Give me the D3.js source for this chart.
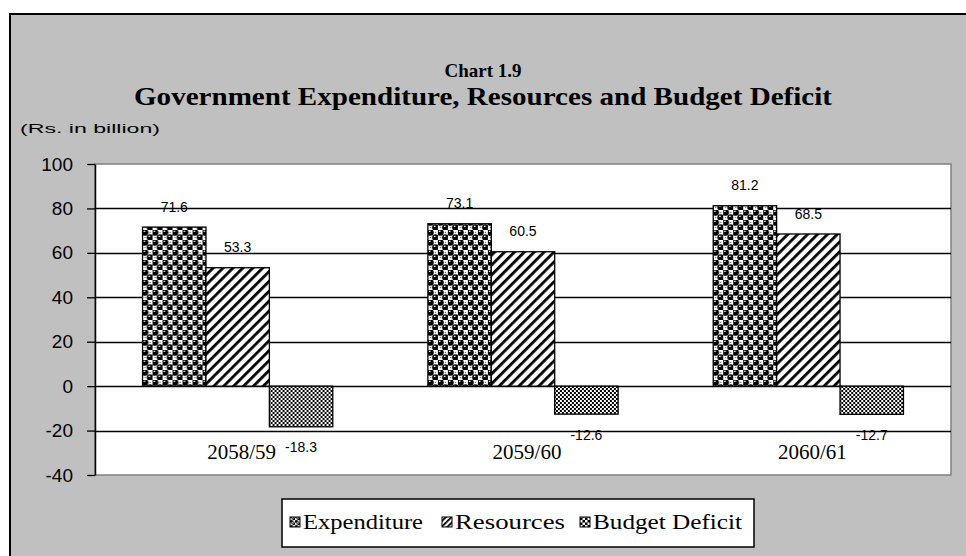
<!DOCTYPE html>
<html>
<head>
<meta charset="utf-8">
<script src="https://cdn.jsdelivr.net/npm/d3@7"></script>
<style>
  html, body { margin: 0; padding: 0; background: #ffffff; }
  svg { display: block; }
</style>
</head>
<body>
<svg id="chart" width="966" height="556"></svg>
<script>
// Fiscal years and series values (Rs. in billion)
const categories = ["2058/59", "2059/60", "2060/61"];
const seriesNames = ["Expenditure", "Resources", "Budget Deficit"];
const expenditure = [71.6, 73.1, 81.2];
const resources = [53.3, 60.5, 68.5];
const budgetDeficit = [-18.3, -12.6, -12.7];
const yTicks = [-40, -20, 0, 20, 40, 60, 80, 100];

const seriesValues = [expenditure, resources, budgetDeficit];

const svg = d3.select("#chart");
const W = 966, H = 556;

// --- fill patterns -------------------------------------------------------
const defs = svg.append("defs");

// black spheres on a white ground
function spherePattern(id, size, rf) {
  const p = defs.append("pattern").attr("id", id)
    .attr("patternUnits", "userSpaceOnUse")
    .attr("width", size).attr("height", size);
  p.append("rect").attr("width", size).attr("height", size).attr("fill", "#fff");
  const r = size * rf;
  [[size / 4, size / 4], [size * 3 / 4, size * 3 / 4]].forEach(([cx, cy]) => {
    p.append("circle").attr("cx", cx).attr("cy", cy).attr("r", r).attr("fill", "#000");
    p.append("rect").attr("x", cx - r * 0.45).attr("y", cy - r * 0.55)
      .attr("width", r * 0.45).attr("height", r * 0.4).attr("fill", "#fff");
  });
  [[size * 3 / 4, size / 4], [size / 4, size * 3 / 4]].forEach(([cx, cy]) => {
    p.append("rect").attr("x", cx - 0.6).attr("y", cy - 0.6)
      .attr("width", 1.2).attr("height", 1.2).attr("fill", "#666");
  });
}
// wide upward diagonal stripes
function stripePattern(id, size, thick) {
  const p = defs.append("pattern").attr("id", id)
    .attr("patternUnits", "userSpaceOnUse")
    .attr("width", size).attr("height", size)
    .attr("patternTransform", "rotate(45)");
  p.append("rect").attr("width", size).attr("height", size).attr("fill", "#fff");
  p.append("rect").attr("width", thick).attr("height", size).attr("fill", "#000");
}
// fine checkerboard
function checkerPattern(id, cell) {
  const p = defs.append("pattern").attr("id", id)
    .attr("patternUnits", "userSpaceOnUse")
    .attr("width", cell * 2).attr("height", cell * 2);
  p.append("rect").attr("width", cell * 2).attr("height", cell * 2).attr("fill", "#000");
  p.append("rect").attr("width", cell).attr("height", cell).attr("fill", "#fff");
  p.append("rect").attr("x", cell).attr("y", cell).attr("width", cell).attr("height", cell).attr("fill", "#fff");
}
spherePattern("pat-exp", 10, 0.33);
stripePattern("pat-res", 7, 2.8);
checkerPattern("pat-def", 2);
spherePattern("pat-exp-s", 5, 0.3);
stripePattern("pat-res-s", 4, 1.8);
checkerPattern("pat-def-s", 2.5);

const fills = ["url(#pat-exp)", "url(#pat-res)", "url(#pat-def)"];
const legendFills = ["url(#pat-exp-s)", "url(#pat-res-s)", "url(#pat-def-s)"];

// --- chart frame ---------------------------------------------------------
svg.append("rect")
  .attr("x", 10).attr("y", 14)
  .attr("width", W + 20).attr("height", H + 20)
  .attr("fill", "#c0c0c0").attr("stroke", "#000").attr("stroke-width", 2);

// --- titles --------------------------------------------------------------
svg.append("text")
  .attr("x", 483).attr("y", 77)
  .attr("text-anchor", "middle")
  .attr("font-family", "'Liberation Serif', 'Times New Roman', serif")
  .attr("font-weight", "bold").attr("font-size", 19)
  .text("Chart 1.9");

svg.append("text")
  .attr("x", 483).attr("y", 105)
  .attr("text-anchor", "middle")
  .attr("font-family", "'Liberation Serif', 'Times New Roman', serif")
  .attr("font-weight", "bold").attr("font-size", 25)
  .attr("textLength", 698).attr("lengthAdjust", "spacingAndGlyphs")
  .text("Government Expenditure, Resources and Budget Deficit");

svg.append("text")
  .attr("x", 20).attr("y", 133)
  .attr("font-family", "'Liberation Sans', Arial, sans-serif")
  .attr("font-size", 13)
  .attr("textLength", 140).attr("lengthAdjust", "spacingAndGlyphs")
  .text("(Rs. in billion)");

// --- scales --------------------------------------------------------------
const plot = { left: 95, right: 951, top: 164, bottom: 475 };

const x0 = d3.scaleBand()
  .domain(categories)
  .range([plot.left, plot.right])
  .paddingInner(1 / 3)
  .paddingOuter(1 / 6);

const x1 = d3.scaleBand()
  .domain(d3.range(seriesNames.length))
  .range([0, x0.bandwidth()])
  .padding(0);

const y = d3.scaleLinear()
  .domain([d3.min(yTicks), d3.max(yTicks)])
  .range([plot.bottom, plot.top]);

// plot area
svg.append("rect")
  .attr("x", plot.left).attr("y", plot.top)
  .attr("width", plot.right - plot.left).attr("height", plot.bottom - plot.top)
  .attr("fill", "#fff").attr("stroke", "#808080").attr("stroke-width", 1.5);

// gridlines
svg.append("g").selectAll("line")
  .data(yTicks.filter(t => t !== d3.min(yTicks) && t !== d3.max(yTicks)))
  .join("line")
  .attr("x1", plot.left).attr("x2", plot.right)
  .attr("y1", d => Math.round(y(d)) + 0.5).attr("y2", d => Math.round(y(d)) + 0.5)
  .attr("stroke", "#000").attr("stroke-width", 1.3);

// --- bars ----------------------------------------------------------------
const groups = svg.append("g").selectAll("g")
  .data(categories)
  .join("g")
  .attr("transform", c => `translate(${x0(c)},0)`);

groups.selectAll("rect")
  .data((c, ci) => seriesValues.map((vals, si) => ({ si, v: vals[ci] })))
  .join("rect")
  .attr("x", d => x1(d.si))
  .attr("width", x1.bandwidth())
  .attr("y", d => y(Math.max(0, d.v)))
  .attr("height", d => Math.abs(y(d.v) - y(0)))
  .attr("fill", d => fills[d.si])
  .attr("stroke", "#000").attr("stroke-width", 1.3);

// value labels
groups.selectAll("text")
  .data((c, ci) => seriesValues.map((vals, si) => ({ si, v: vals[ci] })))
  .join("text")
  .attr("x", d => x1(d.si) + x1.bandwidth() / 2)
  .attr("y", d => d.v >= 0 ? y(d.v) - 20.5 : y(d.v) + 20.5)
  .attr("dy", "0.36em")
  .attr("text-anchor", "middle")
  .attr("font-family", "'Liberation Sans', Arial, sans-serif")
  .attr("font-size", 14)
  .text(d => d.v.toFixed(1));

// --- axes ----------------------------------------------------------------
const yAxis = d3.axisLeft(y)
  .tickValues(yTicks)
  .tickSize(8)
  .tickSizeOuter(0)
  .tickPadding(14)
  .tickFormat(d => String(d));

const gy = svg.append("g")
  .attr("transform", `translate(${plot.left},0)`)
  .call(yAxis);
gy.select(".domain").attr("stroke", "#000").attr("stroke-width", 1.5);
gy.selectAll(".tick line").attr("stroke", "#000").attr("stroke-width", 1.3);
gy.selectAll(".tick text")
  .attr("font-family", "'Liberation Sans', Arial, sans-serif")
  .attr("font-size", 19)
  .attr("fill", "#000");

// category labels
svg.append("g").selectAll("text")
  .data(categories)
  .join("text")
  .attr("x", c => x0(c) + x0.bandwidth() / 2 + 4)
  .attr("y", 459)
  .attr("text-anchor", "middle")
  .attr("font-family", "'Liberation Serif', 'Times New Roman', serif")
  .attr("font-size", 21)
  .text(c => c);

// --- legend --------------------------------------------------------------
const legend = svg.append("g");
legend.append("rect")
  .attr("x", 282).attr("y", 499)
  .attr("width", 472).attr("height", 48)
  .attr("fill", "#fff").attr("stroke", "#000").attr("stroke-width", 1.5);

const legendSwatchX = [290, 442, 580];
const legendTextX = [303, 455, 593];
const legendTextLen = [120, 110, 149];
const items = legend.selectAll("g.item")
  .data(seriesNames)
  .join("g").attr("class", "item");

items.append("rect")
  .attr("x", (d, i) => legendSwatchX[i]).attr("y", 517)
  .attr("width", 10).attr("height", 10)
  .attr("fill", (d, i) => legendFills[i])
  .attr("stroke", "#000").attr("stroke-width", 1);

items.append("text")
  .attr("x", (d, i) => legendTextX[i]).attr("y", 529)
  .attr("font-family", "'Liberation Serif', 'Times New Roman', serif")
  .attr("font-size", 21)
  .attr("textLength", (d, i) => legendTextLen[i]).attr("lengthAdjust", "spacingAndGlyphs")
  .text(d => d);
</script>
</body>
</html>
